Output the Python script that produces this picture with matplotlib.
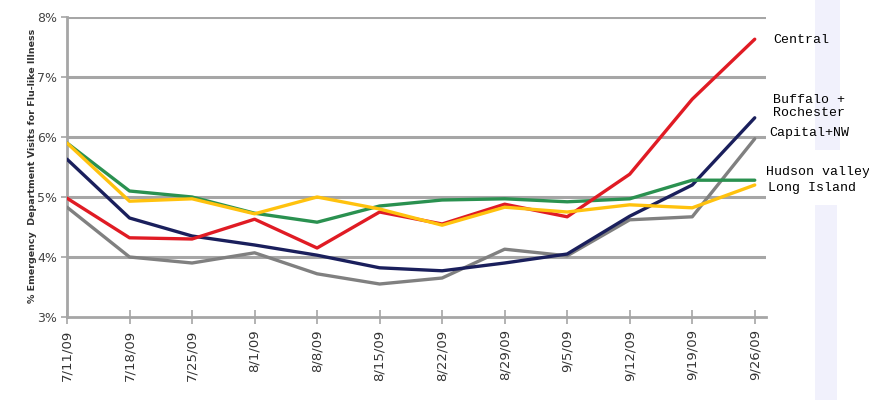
import matplotlib
matplotlib.use("Agg")
import matplotlib.pyplot as plt
from matplotlib.patches import Rectangle

dates = ["7/11/09", "7/18/09", "7/25/09", "8/1/09", "8/8/09", "8/15/09",
         "8/22/09", "8/29/09", "9/5/09", "9/12/09", "9/19/09", "9/26/09"]
central = [4.98, 4.32, 4.30, 4.63, 4.15, 4.75, 4.55, 4.88, 4.67, 5.38, 6.63, 7.63]
buffalo = [5.63, 4.65, 4.35, 4.20, 4.03, 3.82, 3.77, 3.90, 4.05, 4.68, 5.20, 6.32]
capital = [4.83, 4.00, 3.90, 4.07, 3.72, 3.55, 3.65, 4.13, 4.02, 4.62, 4.67, 5.97]
hudson = [5.90, 5.10, 5.00, 4.73, 4.58, 4.85, 4.95, 4.97, 4.92, 4.97, 5.28, 5.28]
longisland = [5.90, 4.93, 4.97, 4.72, 5.00, 4.80, 4.53, 4.83, 4.75, 4.87, 4.82, 5.20]
yticks = [3, 4, 5, 6, 7, 8]
ytick_labels = ["3%", "4%", "5%", "6%", "7%", "8%"]

W, H = 870, 400
fig = plt.figure(figsize=(W / 100, H / 100), dpi=100)
fig.patch.set_facecolor("white")

# faint lavender strip on the right
for (x0, y0, w, h) in [(815, 0, 25, 150), (815, 205, 22, 195)]:
    fig.patches.append(Rectangle((x0 / W, 1 - (y0 + h) / H), w / W, h / H,
                                 transform=fig.transFigure,
                                 facecolor="#F1F1FC", edgecolor="none", zorder=0))

ax = fig.add_axes([67 / W, 1 - 317 / H, (766 - 67) / W, 300 / H])
x = list(range(len(dates)))

grid_c = "#A6A6A6"
for yv in yticks[1:]:
    ax.axhline(yv, color=grid_c, lw=2.2, zorder=1)

series = [
    (capital, "#808080"),
    (buffalo, "#1A1F5C"),
    (hudson, "#2A9150"),
    (central, "#E01B24"),
    (longisland, "#FFC20E"),
]
for vals, c in series:
    ax.plot(x, vals, color=c, lw=2.4, zorder=3, solid_capstyle="round")

ax.set_xlim(0, 11.18)
ax.set_ylim(3, 8)
ax.set_yticks(yticks)
ax.set_yticklabels(ytick_labels, fontsize=9, color="#444444")
ax.set_xticks(x)
ax.set_xticklabels(dates, rotation=90, fontsize=9.5, color="#333333")

for s in ["top", "right"]:
    ax.spines[s].set_visible(False)
ax.spines["left"].set_color(grid_c)
ax.spines["left"].set_linewidth(2)
ax.spines["bottom"].set_color(grid_c)
ax.spines["bottom"].set_linewidth(2)
ax.tick_params(axis="x", direction="inout", length=10, width=1.2, color=grid_c, pad=4)
ax.tick_params(axis="y", direction="out", length=4, width=1.2, color=grid_c, pad=3)
ax.set_facecolor("white")

fig.text(33 / W, 1 - 166 / H, "% Emergency  Department Visits for Flu-like Illness",
         rotation=90, ha="center", va="center", fontsize=6.8, fontweight="bold", color="#333333")

mono = "Liberation Mono"
labels = [
    (773, 40, "Central"),
    (773, 100, "Buffalo +"),
    (773, 113, "Rochester"),
    (769, 133, "Capital+NW"),
    (766, 172, "Hudson valley"),
    (768, 188, "Long Island"),
]
for px, py, t in labels:
    fig.text(px / W, 1 - py / H, t, ha="left", va="center", fontsize=9.5,
             family=mono, color="black")

fig.savefig("out.png", dpi=100, facecolor="white")
